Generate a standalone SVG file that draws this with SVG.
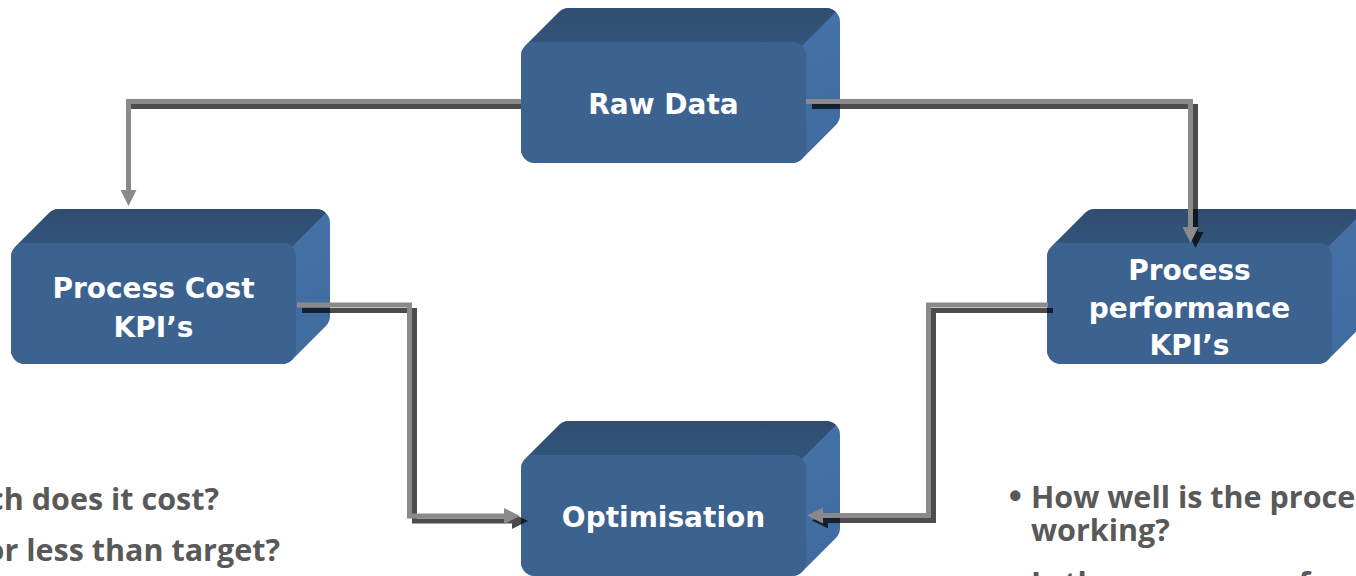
<svg xmlns="http://www.w3.org/2000/svg" xmlns:xlink="http://www.w3.org/1999/xlink" width="1356" height="576" viewBox="0 0 1356 576">
  <style>
    .side { fill: url(#sideGrad); }
    .top { fill: url(#topGrad); }
    .front { fill: #3c6290; }
    .label { font-family: "DejaVu Sans", Verdana, sans-serif; font-weight: bold; font-size: 28px; fill: #ffffff; text-anchor: middle; }
    .note { font-family: "Open Sans", "Liberation Sans", sans-serif; font-weight: bold; font-size: 30.5px; fill: #595959; }
    .light { fill: none; stroke: #8a8a8a; stroke-width: 5; }
    .shadow { fill: none; stroke: #000000; stroke-opacity: 0.7; stroke-width: 5; }
  </style>
  <defs>
    <linearGradient id="sideGrad" x1="0" y1="0" x2="1" y2="1">
      <stop offset="0" stop-color="#4a78b0"/>
      <stop offset="1" stop-color="#3f6a9e"/>
    </linearGradient>
    <linearGradient id="topGrad" x1="0" y1="0" x2="0" y2="1">
      <stop offset="0" stop-color="#2f4d70"/>
      <stop offset="1" stop-color="#33557c"/>
    </linearGradient>
    <g id="box">
      <path class="side" d="M14,121 A14,14 0 0 1 0,107 L0,14 A14,14 0 0 1 4.1,4.1 L38.1,-29.9 A14,14 0 0 1 48,-34 L305,-34 A14,14 0 0 1 319,-20 L319,73 A14,14 0 0 1 314.9,82.9 L280.9,116.9 A14,14 0 0 1 271,121 Z"/>
      <path class="top" d="M4.1,4.1 L38.1,-29.9 A14,14 0 0 1 48,-34 L305,-34 A14,14 0 0 1 314.9,-29.9 L280.9,4.1 A14,14 0 0 0 271,0 L14,0 A14,14 0 0 0 4.1,4.1 Z"/>
      <rect class="front" x="0" y="0" width="285" height="121" rx="14" ry="14"/>
    </g>
    <marker id="arrLight" markerUnits="userSpaceOnUse" markerWidth="16" markerHeight="16" refX="0" refY="8" orient="auto" overflow="visible">
      <path d="M0,0 L16,8 L0,16 Z" fill="#8a8a8a"/>
    </marker>
    <marker id="arrDark" markerUnits="userSpaceOnUse" markerWidth="16" markerHeight="16" refX="0" refY="8" orient="auto" overflow="visible">
      <path d="M0,0 L16,8 L0,16 Z" fill="#000000" fill-opacity="0.7"/>
    </marker>
  </defs>

  <g id="node-raw-data">
    <use xlink:href="#box" href="#box" x="521" y="42"/>
    <text class="label" x="663.5" y="114">Raw Data</text>
  </g>
  <g id="node-process-cost">
    <use xlink:href="#box" href="#box" x="11" y="243"/>
    <text class="label" x="153.5" y="298">Process Cost</text>
    <text class="label" x="153.5" y="337">KPI’s</text>
  </g>
  <g id="node-process-performance">
    <use xlink:href="#box" href="#box" x="1047" y="243"/>
    <text class="label" x="1189.5" y="280">Process</text>
    <text class="label" x="1189.5" y="318">performance</text>
    <text class="label" x="1189.5" y="355">KPI’s</text>
  </g>
  <g id="node-optimisation">
    <use xlink:href="#box" href="#box" x="521" y="455"/>
    <text class="label" x="663.5" y="527">Optimisation</text>
  </g>

  <g id="connectors">
    <path class="shadow" d="M521,106.5 H131"/>
    <path class="light" d="M521,101.5 H128.5 V190" marker-end="url(#arrLight)"/>

    <path class="shadow" d="M812,106.5 H1195.5 V232" marker-end="url(#arrDark)"/>
    <path class="light" d="M806,101.5 H1190.5 V227" marker-end="url(#arrLight)"/>

    <path class="shadow" d="M302,310.5 H414.5 V521 H512" marker-end="url(#arrDark)"/>
    <path class="light" d="M297,305 H409.5 V516 H504" marker-end="url(#arrLight)"/>

    <path class="shadow" d="M1053,310.5 H933.5 V520.5 H828" marker-end="url(#arrDark)"/>
    <path class="light" d="M1048,305 H928.5 V515.5 H823" marker-end="url(#arrLight)"/>
  </g>

  <g id="notes">
    <text class="note" x="219" y="510" text-anchor="end">ch does it cost?</text>
    <text class="note" x="280" y="561" text-anchor="end">or less than target?</text>
    <text class="note" x="1009" y="508" style="font-family: 'Liberation Sans', sans-serif; font-size: 36px;">•</text>
    <text class="note" x="1031" y="508">How well is the proce</text>
    <text class="note" x="1031" y="541">working?</text>
    <text class="note" x="1031" y="594">Is the process perf</text>
  </g>
</svg>
